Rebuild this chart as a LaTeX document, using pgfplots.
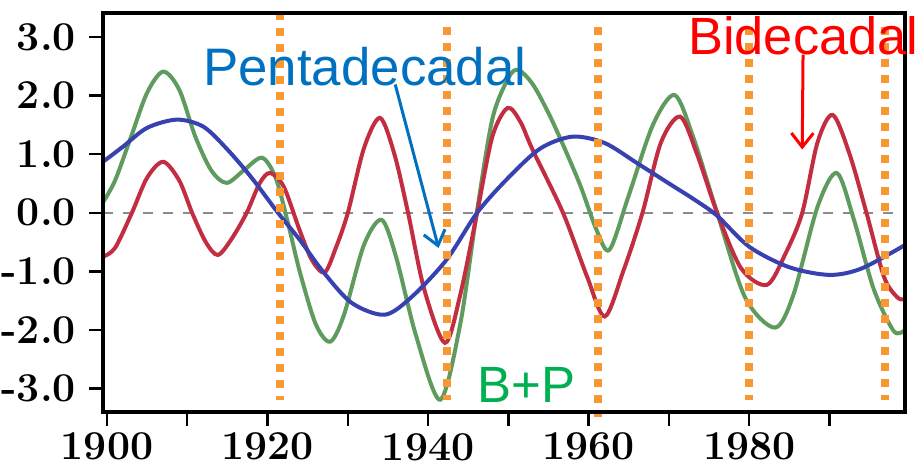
\documentclass[border=0pt]{standalone}
\usepackage{pgfplots}
\pgfplotsset{compat=1.18}
\usepackage{fontspec}
\newfontfamily\arialf{Liberation Sans}
\usetikzlibrary{arrows.meta}
\definecolor{cRed}{RGB}{195,45,65}
\definecolor{cGreen}{RGB}{95,155,95}
\definecolor{cBlue}{RGB}{55,65,175}
\definecolor{cOrange}{RGB}{247,152,50}
\definecolor{tBlue}{RGB}{0,112,192}
\definecolor{tRed}{RGB}{255,0,0}
\definecolor{tGreen}{RGB}{0,176,80}
\begin{document}
\begin{tikzpicture}
\begin{axis}[
  scale only axis, width=401pt, height=199.5pt,
  xmin=1899.5, xmax=1999.4, ymin=-3.4, ymax=3.41,
  axis line style={line width=1.6pt, black},
  xtick={1900,1920,1940,1960,1980},
  minor xtick={1910,1930,1950,1970,1990},
  ytick={-3,-2,-1,0,1,2,3},
  tick align=outside, tick pos=left,
  major tick length=7pt, minor tick length=7pt,
  every tick/.style={line width=1.2pt, black},
  /pgf/number format/assume math mode=true,
  ticklabel style={font=\fontsize{20.5}{24}\selectfont\bfseries},
  yticklabel style={xshift=-3pt, /pgf/number format/.cd, fixed, fixed zerofill, precision=1},
  xticklabel style={/pgf/number format/.cd, set thousands separator={}},
  clip mode=individual,
]
\addplot[gray!90, line width=1pt, dash pattern=on 5pt off 5pt] coordinates {(1899.5,0) (1999.4,0)};
% B+P (green)
\addplot[cGreen, line width=2pt, smooth] coordinates {
(1899.5,0.18) (1901,0.55) (1903,1.3) (1905,2.05) (1907,2.41) (1909,2.1) (1911,1.3) (1913,0.72) (1914.9,0.51) (1917,0.72) (1919.3,0.94) (1921,0.6) (1922.5,-0.15) (1924,-1.0) (1926,-1.9) (1927.8,-2.2) (1929.5,-1.75) (1932,-0.55) (1934.2,-0.12) (1936,-0.75) (1938.5,-2.1) (1941.5,-3.19) (1944,-1.9) (1946,-0.05) (1948,1.6) (1950,2.3) (1951.2,2.44) (1953,2.2) (1955,1.7) (1957,1.1) (1959,0.45) (1961,-0.3) (1962.6,-0.63) (1965,0.3) (1968,1.5) (1970.7,2.01) (1973,1.3) (1976,0.0) (1979.5,-1.45) (1983.2,-1.96) (1985.5,-1.4) (1988.5,0.1) (1990.9,0.68) (1993,-0.1) (1995.5,-1.3) (1998,-2.02) (1999.4,-2.0)};
% Bidecadal (red)
\addplot[cRed, line width=2pt, smooth] coordinates {
(1899.5,-0.75) (1901,-0.6) (1903.1,0.0) (1905,0.6) (1907,0.87) (1909,0.55) (1910.6,0.0) (1912.3,-0.5) (1913.8,-0.72) (1915.5,-0.45) (1917.4,0.0) (1919,0.5) (1920.3,0.68) (1922,0.45) (1924,-0.3) (1925.5,-0.8) (1927.1,-1.02) (1928.5,-0.6) (1930,0.0) (1932,1.1) (1934,1.62) (1935.8,1.0) (1937.5,0.0) (1939.5,-1.3) (1942.1,-2.22) (1944,-1.4) (1946.1,0.0) (1948,1.3) (1949.9,1.79) (1951.5,1.55) (1953,1.08) (1956.8,0.0) (1959.8,-1.09) (1962,-1.77) (1964.3,-1.0) (1966.7,0.0) (1969,1.2) (1971.4,1.64) (1973.5,1.0) (1976,0.0) (1979,-0.95) (1982.2,-1.23) (1984.5,-0.7) (1986.6,0.0) (1988.5,1.2) (1990.4,1.67) (1992.5,1.0) (1994.6,0.0) (1996.8,-1.1) (1998.5,-1.45) (1999.4,-1.47)};
% Pentadecadal (blue)
\addplot[cBlue, line width=2pt, smooth] coordinates {
(1899.5,0.87) (1902,1.13) (1905,1.45) (1908.7,1.59) (1912,1.47) (1915,1.08) (1918,0.6) (1921.3,0.0) (1924,-0.46) (1927,-1.02) (1930.5,-1.54) (1934.6,-1.74) (1938,-1.43) (1942.3,-0.8) (1946.1,0.0) (1950,0.6) (1954,1.1) (1958,1.3) (1962,1.19) (1966,0.85) (1970,0.5) (1973,0.24) (1976,-0.05) (1980,-0.58) (1985,-0.93) (1990,-1.06) (1994,-0.95) (1999.4,-0.55)};
% orange dotted lines
\draw[cOrange, line width=4pt, dash pattern=on 4pt off 4pt] (axis cs:1921.5,3.43) -- (axis cs:1921.5,-3.19);
\draw[cOrange, line width=4pt, dash pattern=on 4pt off 4pt] (axis cs:1942.3,3.17) -- (axis cs:1942.3,-3.19);
\draw[cOrange, line width=4pt, dash pattern=on 4pt off 4pt] (axis cs:1961.1,3.17) -- (axis cs:1961.1,-3.48);
\draw[cOrange, line width=4pt, dash pattern=on 4pt off 4pt] (axis cs:1979.95,3.17) -- (axis cs:1979.95,-3.19);
\draw[cOrange, line width=4pt, dash pattern=on 4pt off 4pt] (axis cs:1996.9,3.17) -- (axis cs:1996.9,-3.19);
\end{axis}
\draw[black, line width=1.8pt] (current axis.south west) rectangle (current axis.north east);
\begin{scope}[x=1pt, y=1pt]
\end{scope}
\begin{axis}[
  scale only axis, width=401pt, height=199.5pt,
  xmin=1899.5, xmax=1999.4, ymin=-3.4, ymax=3.41,
  hide axis, clip=false,
]
\node[anchor=base west, inner sep=0pt, text=tBlue, font=\arialf\fontsize{26.4}{30}\selectfont] at (axis cs:1911.95,2.18) {Pentadecadal};
\node[anchor=base west, inner sep=0pt, text=tRed, font=\arialf\fontsize{26.2}{30}\selectfont] at (axis cs:1972.35,2.70) {Bidecadal};
\node[anchor=base west, inner sep=0pt, text=tGreen, font=\arialf\fontsize{25.5}{30}\selectfont] at (axis cs:1946.1,-3.24) {B+P};
\draw[tBlue, line width=1.5pt, -{Straight Barb[length=7pt,width=11pt]}] (axis cs:1935.9,2.19) -- (axis cs:1941.3,-0.60);
\draw[tRed, line width=1.5pt, -{Straight Barb[length=7pt,width=11pt]}] (axis cs:1986.7,2.70) -- (axis cs:1986.6,1.08);
\end{axis}
\pgfresetboundingbox
\path[use as bounding box] ([xshift=-51.5pt,yshift=-32pt]current axis.south west) rectangle ([xshift=9pt,yshift=6.5pt]current axis.north east);
\end{tikzpicture}
\end{document}
